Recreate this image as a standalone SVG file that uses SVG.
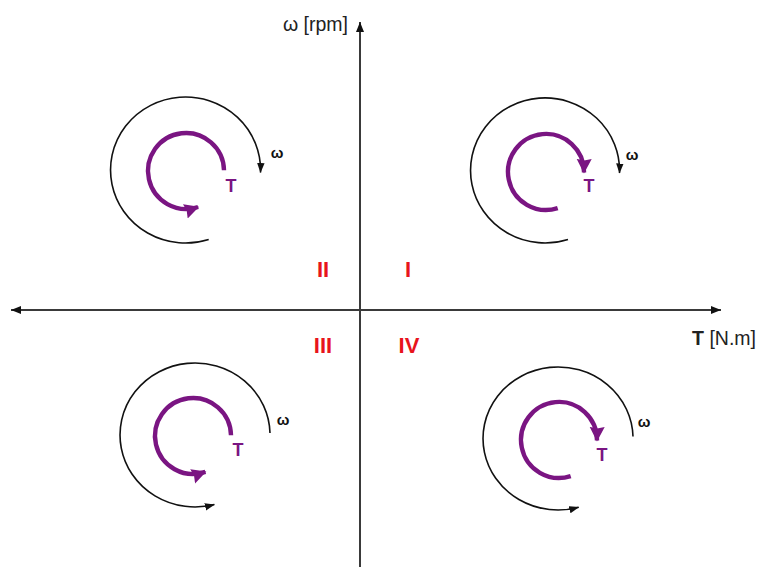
<svg xmlns="http://www.w3.org/2000/svg" width="758" height="568" viewBox="0 0 758 568">
<style>
.axis{stroke:#3a3a3a;stroke-width:2;fill:none}
.blk{stroke:#111;stroke-width:1.6;fill:none}
.pur{stroke:#7a1582;stroke-width:4.4;fill:none}
.w{font-family:"Liberation Sans",Arial,sans-serif;font-size:15px;font-weight:bold;fill:#111;text-anchor:middle}
.t{font-family:"Liberation Sans",Arial,sans-serif;font-size:18px;font-weight:bold;fill:#7a1582;text-anchor:middle}
.q{font-family:"Liberation Sans",Arial,sans-serif;font-size:22px;font-weight:bold;fill:#e8141c;text-anchor:middle}
.lab{font-family:"Liberation Sans",Arial,sans-serif;font-size:19.5px;fill:#222}
</style>
<defs>
<marker id="ah" markerUnits="userSpaceOnUse" markerWidth="12" markerHeight="10" refX="10" refY="5" orient="auto"><path d="M0,1 L10,5 L0,9 Z" fill="#111"/></marker>
<marker id="bh" markerUnits="userSpaceOnUse" markerWidth="11" markerHeight="9" refX="9.5" refY="4" orient="auto"><path d="M0,0.3 L10,4 L0,7.7 Z" fill="#111"/></marker>
<marker id="ph" markerUnits="userSpaceOnUse" markerWidth="16" markerHeight="16" refX="13.5" refY="7.5" orient="auto"><path d="M0,0 L14.5,7.5 L0,15 L1.5,7.5 Z" fill="#7a1582"/></marker>
</defs>
<g id="axes">
<line class="axis" x1="360" y1="567" x2="360" y2="22" marker-end="url(#ah)"/>
<line class="axis" x1="360" y1="310" x2="721" y2="310" marker-end="url(#ah)"/>
<line class="axis" x1="360" y1="310" x2="11" y2="310" marker-end="url(#ah)"/>
<text class="lab" x="348" y="31" text-anchor="end">ω [rpm]</text>
<text class="lab" x="756" y="345" text-anchor="end"><tspan font-weight="bold">T</tspan> [N.m]</text>
</g>
<g id="quadrant-labels">
<text class="q" x="323" y="277">II</text>
<text class="q" x="408" y="277">I</text>
<text class="q" x="323" y="353">III</text>
<text class="q" x="409" y="353">IV</text>
</g>
<g id="q1">
<path class="blk" d="M568,239.4 A74.5,72.5 0 1 1 619.5,173" marker-end="url(#bh)"/>
<path class="pur" d="M557.7,208.1 A38,38 0 1 1 584,172.5" marker-end="url(#ph)"/>
<text class="w" x="632" y="160">ω</text>
<text class="t" x="589" y="192">T</text>
</g>
<g id="q2">
<path class="blk" d="M208.7,239.4 A75,73 0 1 1 260.5,172.5" marker-end="url(#bh)"/>
<path class="pur" d="M224,170.3 A38,38 0 1 0 198.1,207" marker-end="url(#ph)"/>
<text class="w" x="277" y="158">ω</text>
<text class="t" x="231" y="192">T</text>
</g>
<g id="q3">
<path class="blk" d="M270,433.1 A75,72 0 1 0 214.4,504.5" marker-end="url(#bh)"/>
<path class="pur" d="M231,435.3 A38,38 0 1 0 205.4,471.9" marker-end="url(#ph)"/>
<text class="w" x="283" y="425">ω</text>
<text class="t" x="238" y="456">T</text>
</g>
<g id="q4">
<path class="blk" d="M633,436.6 A75,71.5 0 1 0 578.7,507.2" marker-end="url(#bh)"/>
<path class="pur" d="M570.7,476.1 A38,38 0 1 1 597,440.5" marker-end="url(#ph)"/>
<text class="w" x="644" y="427">ω</text>
<text class="t" x="602" y="461">T</text>
</g>
</svg>
